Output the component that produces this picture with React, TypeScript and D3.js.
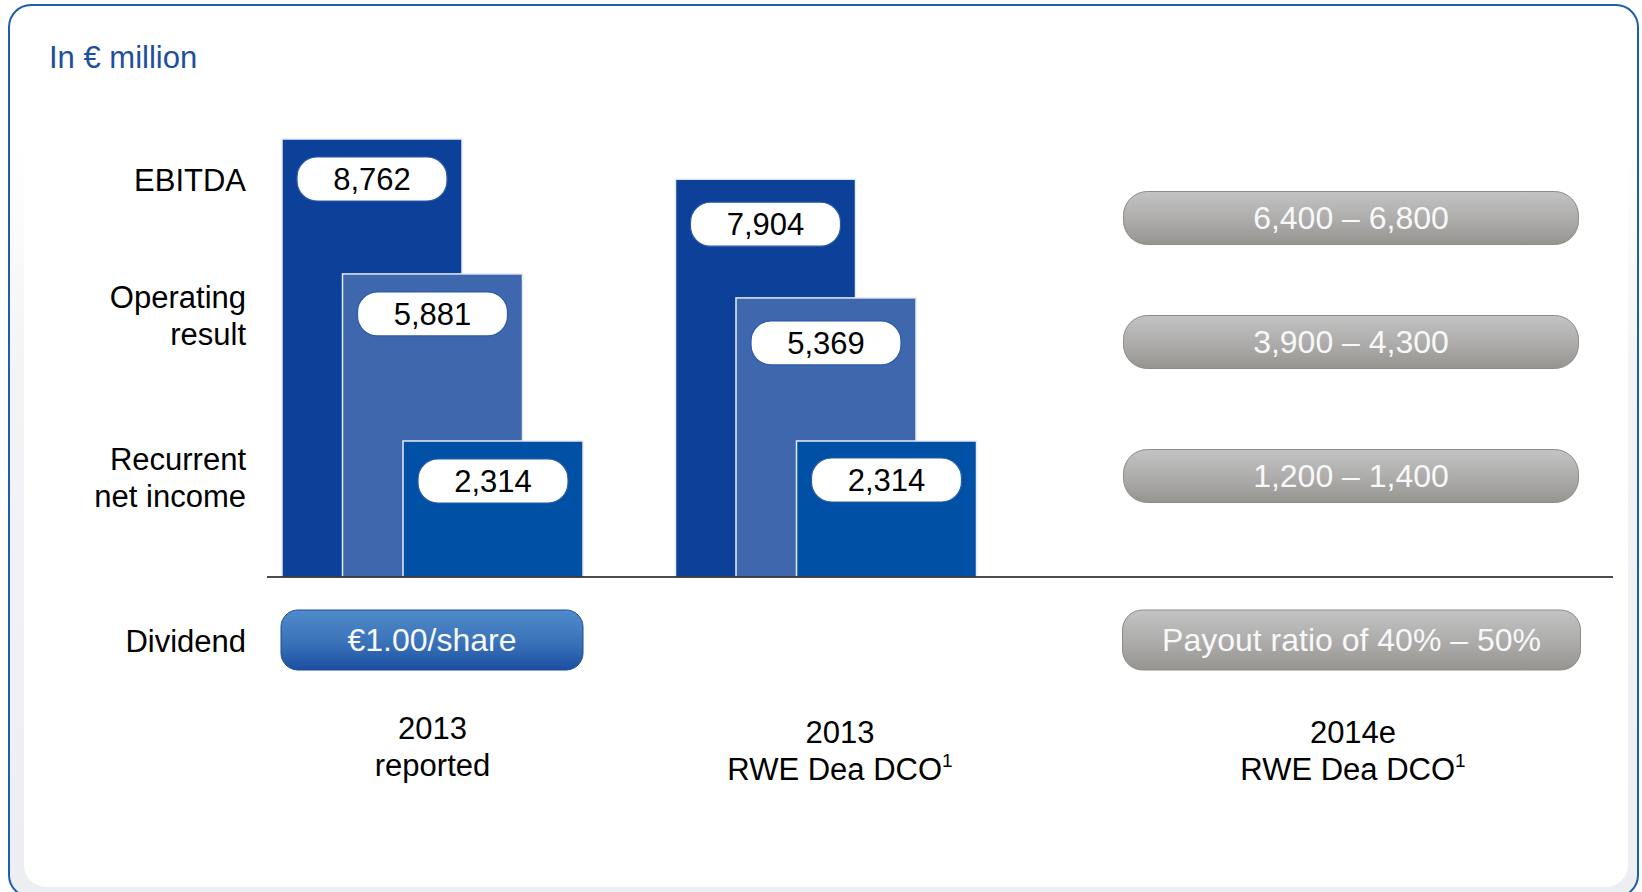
import React from 'react';
import * as d3 from 'd3';

// chart data
const columnYears = ['2013', '2013', '2014e'];
const columnNames = ['reported', 'RWE Dea DCO', 'RWE Dea DCO'];
const columnNotes = ['', '1', '1'];
const metricLines = [['EBITDA'], ['Operating', 'result'], ['Recurrent', 'net income']];
const reported2013 = [8762, 5881, 2314];
const dco2013 = [7904, 5369, 2314];
const outlookLow = [6400, 3900, 1200];
const outlookHigh = [6800, 4300, 1400];
const dividendText = ['€1.00/share', '', 'Payout ratio of 40% – 50%'];

const width = 1642;
const height = 892;
const baseY = 577;
const font = 'Liberation Sans, Arial, Helvetica, sans-serif';
const barColors = ['#0d4098', '#3e67ae', '#0050a5'];

const fmt = d3.format(',');

// schematic value scale of the slide (bars do not start from zero)
const y = d3.scaleLinear().domain([-590, 8762]).range([baseY, 139]);
const colX = d3.scaleOrdinal<number, number>().domain([0, 1, 2]).range([282, 675.5, 1123.5]);
const labelX = d3.scaleOrdinal<number, number>().domain([0, 1, 2]).range([432.5, 840, 1353]);
const rowY = d3.scaleOrdinal<number, number>().domain([0, 1, 2]).range([218, 342, 476]);
const rowLabelY = d3.scaleOrdinal<number, number>().domain([0, 1, 2]).range([180, 316, 478]);

const barW = 180;
const barStep = 60.5;
const pillDy = [[18, 18, 18], [23, 23, 17]];

const App = () => {
  const barSeries = [reported2013, dco2013];

  return (
    <svg
      width={width}
      height={height}
      style={{ position: 'absolute', left: 0, top: 0, fontFamily: font }}
    >
      <defs>
        <linearGradient id="frameFill" x1="0" y1="0" x2="0" y2="1">
          <stop offset="0" stopColor="#ffffff" />
          <stop offset="0.16" stopColor="#ffffff" />
          <stop offset="0.4" stopColor="#f3f4f6" />
          <stop offset="1" stopColor="#eceef2" />
        </linearGradient>
        <linearGradient id="grayPill" x1="0" y1="0" x2="0" y2="1">
          <stop offset="0" stopColor="#c3c3c3" />
          <stop offset="0.55" stopColor="#acabaa" />
          <stop offset="1" stopColor="#96948f" />
        </linearGradient>
        <linearGradient id="bluePill" x1="0" y1="0" x2="0" y2="1">
          <stop offset="0" stopColor="#4f8bca" />
          <stop offset="0.55" stopColor="#3a72b9" />
          <stop offset="1" stopColor="#1c4e9f" />
        </linearGradient>
      </defs>

      {/* frame */}
      <rect x={9} y={5} width={1629} height={892} rx={22} fill="url(#frameFill)" stroke="#1f5db3" strokeWidth={2} />
      <rect x={24} y={100} width={1604} height={787} rx={22} fill="#ffffff" />

      <text x={49} y={57} dy="0.35em" fontSize={31} fill="#1d4f9f">In € million</text>

      {/* row labels */}
      {metricLines.map((lines, i) => (
        <text key={i} x={246} y={rowLabelY(i)} textAnchor="end" fontSize={31} fill="#000">
          {lines.map((l, j) => (
            <tspan key={j} x={246} dy={j === 0 ? `${0.35 - (lines.length - 1) * 0.6}em` : '1.2em'}>{l}</tspan>
          ))}
        </text>
      ))}
      <text x={246} y={641} dy="0.35em" textAnchor="end" fontSize={31} fill="#000">Dividend</text>

      {/* bars */}
      {barSeries.map((series, c) => (
        <g key={c}>
          {series.map((v, i) => (
            <rect
              key={i}
              x={colX(c) + i * barStep}
              y={y(v)}
              width={barW}
              height={baseY - y(v)}
              fill={barColors[i]}
              stroke="#e6ecf6"
              strokeWidth={1.5}
            />
          ))}
          {series.map((v, i) => (
            <g key={'p' + i} transform={`translate(${colX(c) + i * barStep + 15},${y(v) + pillDy[c][i]})`}>
              <rect width={150} height={44} rx={20} fill="#ffffff" stroke="#2a5aa8" strokeWidth={1.2} />
              <text x={75} y={22} dy="0.35em" textAnchor="middle" fontSize={31} fill="#000">{fmt(v)}</text>
            </g>
          ))}
        </g>
      ))}

      {/* outlook ranges */}
      {outlookLow.map((lo, i) => (
        <g key={i} transform={`translate(${colX(2)},${rowY(i) - 26.5})`}>
          <rect width={455} height={53} rx={24} fill="url(#grayPill)" stroke="#8d8b87" strokeWidth={1} />
          <text x={227.5} y={26.5} dy="0.35em" textAnchor="middle" fontSize={32} fill="#f8f8f8">
            {`${fmt(lo)} – ${fmt(outlookHigh[i])}`}
          </text>
        </g>
      ))}

      {/* base line */}
      <line x1={267} x2={1613} y1={baseY} y2={baseY} stroke="#111" strokeWidth={1.5} />

      {/* dividend */}
      {dividendText.map((t, c) => {
        if (!t) return null;
        const w = c === 0 ? 302 : 458;
        return (
          <g key={c} transform={`translate(${colX(c) - 1},610)`}>
            <rect
              width={w}
              height={60}
              rx={c === 0 ? 17 : 20}
              fill={c === 0 ? 'url(#bluePill)' : 'url(#grayPill)'}
              stroke={c === 0 ? '#1d4d98' : '#8d8b87'}
              strokeWidth={1}
            />
            <text x={w / 2} y={30} dy="0.35em" textAnchor="middle" fontSize={32} fill="#f8f8f8">{t}</text>
          </g>
        );
      })}

      {/* column labels */}
      {columnYears.map((yr, c) => (
        <text key={c} x={labelX(c)} y={c === 0 ? 728 : 732} textAnchor="middle" fontSize={31} fill="#000">
          <tspan x={labelX(c)} dy="0.35em">{yr}</tspan>
          <tspan x={labelX(c)} dy="1.2em">{columnNames[c]}</tspan>
          {columnNotes[c] && <tspan fontSize={19} dy="-0.7em">{columnNotes[c]}</tspan>}
        </text>
      ))}
    </svg>
  );
};

export default App;
